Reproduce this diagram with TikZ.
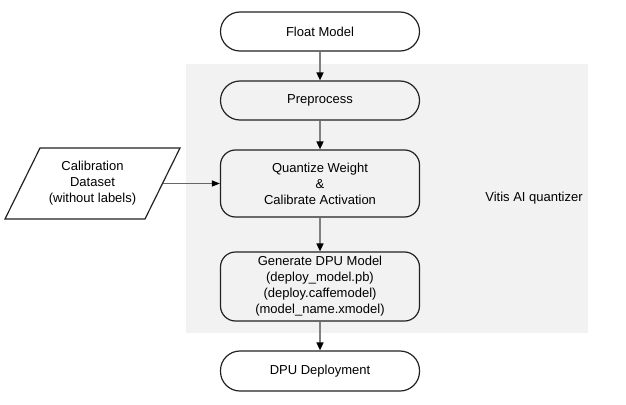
\documentclass[tikz,border=0pt]{standalone}
\usepackage{fontspec}
\setmainfont{Liberation Sans}
\usetikzlibrary{arrows.meta}
\definecolor{bggray}{HTML}{F2F2F2}
\definecolor{linegray}{HTML}{808080}
\definecolor{boxline}{HTML}{222222}
\tikzset{
  txt/.style={font=\fontsize{13}{16}\selectfont, align=center, text=black},
  stadium/.style={txt, draw=boxline, line width=1.2pt, minimum width=199pt, minimum height=39pt, rounded corners=19.5pt, inner sep=0pt},
  procbox/.style={txt, draw=boxline, line width=1.2pt, minimum width=199pt, rounded corners=15pt, inner sep=0pt},
  flow/.style={draw=linegray, line width=1.5pt, -{Triangle[length=8pt,width=7pt,fill=black,color=black]}},
  feed/.style={draw=linegray!80!black, line width=1pt, -{Triangle[length=8pt,width=6pt,fill=black,color=black]}}
}
\begin{document}
\begin{tikzpicture}[x=1pt,y=-1pt]
\useasboundingbox (0,0) rectangle (626,404);
\fill[bggray] (186,64) rectangle (588,333);
\node[stadium] (float) at (320,31.5) {Float Model};
\node[stadium] (pre) at (320,100.5) {Preprocess};
\node[procbox, minimum height=67pt] (quant) at (320,183.5) {Quantize Weight\\\&\\Calibrate Activation};
\node[procbox, minimum height=69pt] (gen) at (320,286.5) {Generate DPU Model\\(deploy\_model.pb)\\(deploy.caffemodel)\\(model\_name.xmodel)};
\node[stadium, minimum height=40pt] (dpu) at (320,371) {DPU Deployment};
\draw[draw=boxline, line width=1.2pt] (40,148) -- (180,148) -- (145,219) -- (5,219) -- cycle;
\node[txt] (calib) at (92.5,183.5) {Calibration\\Dataset\\(without labels)};
\coordinate (calout) at (163,183.5);
\node[txt, anchor=center] (vitis) at (534,198) {Vitis AI quantizer};
\draw[flow] (float) -- (pre);
\draw[flow] (pre) -- (quant);
\draw[flow] (quant) -- (gen);
\draw[flow] (gen) -- (dpu);
\draw[feed] (calout) -- (quant.west);
\end{tikzpicture}
\end{document}
